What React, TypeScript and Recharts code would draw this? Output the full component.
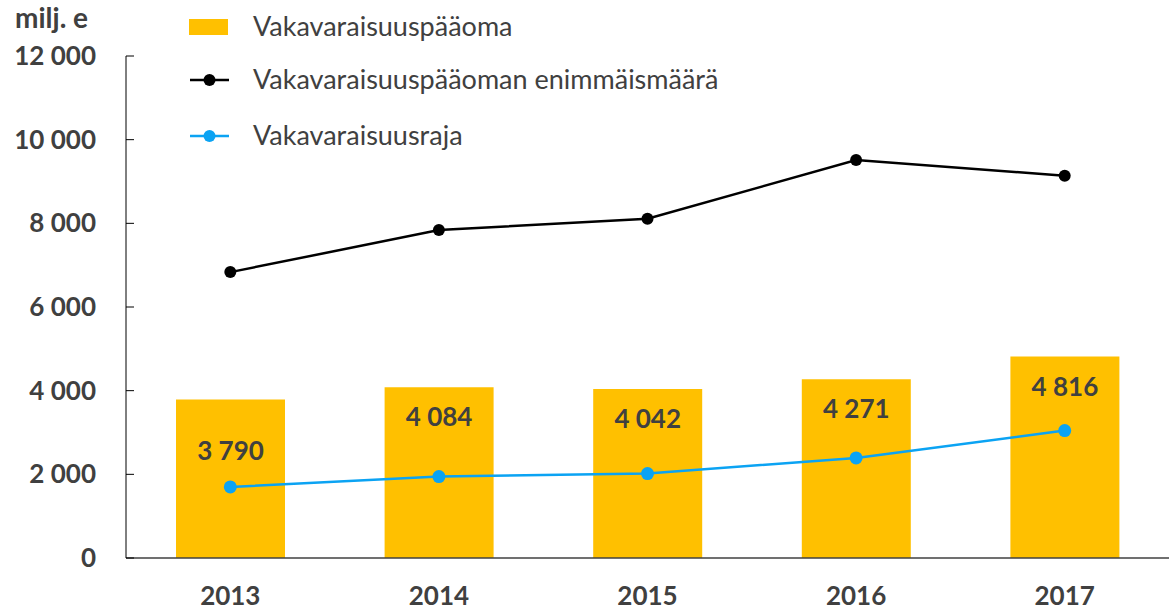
import { ComposedChart, Bar, Line, XAxis, YAxis, LabelList } from 'recharts'

const years = ['2013', '2014', '2015', '2016', '2017']
const capital = [3790, 4084, 4042, 4271, 4816]
const capitalMax = [6834, 7838, 8108, 9512, 9137]
const solvencyLimit = [1698, 1947, 2019, 2392, 3047]
const yTicks = [0, 2000, 4000, 6000, 8000, 10000, 12000]

const data = years.map((year, i) => ({
  year,
  capital: capital[i],
  capitalMax: capitalMax[i],
  limit: solvencyLimit[i],
}))

// how far below the bar top each value label sits (first one is dodging the line)
const labelDrop = [51, 30, 30, 30, 30]

const FONT = 'Lato, "Open Sans", sans-serif'
const GREY = '#404040'
const YELLOW = '#FFC000'
const BLUE = '#0BA3F3'

const fmt = (v: number) => String(v).replace(/\B(?=(\d{3})+(?!\d))/g, ' ')

const YTick = (props: any) => {
  const { x, y, payload } = props
  return (
    <g>
      <text x={x} y={y} dy="0.35em" textAnchor="end" fontSize={26} fontWeight={700} fill={GREY} fontFamily={FONT}>
        {fmt(payload.value)}
      </text>
      <line x1={x + 30} x2={x + 38} y1={y} y2={y} stroke="#000" strokeWidth={1} />
    </g>
  )
}

const BarValue = (props: any) => {
  const { x, y, width, value, index } = props
  return (
    <text
      x={x + width / 2}
      y={y + labelDrop[index]}
      dy="0.35em"
      textAnchor="middle"
      fontSize={26}
      fontWeight={700}
      fill={GREY}
      fontFamily={FONT}
    >
      {fmt(value)}
    </text>
  )
}

const legendItems = [
  { label: 'Vakavaraisuuspääoma', kind: 'bar', color: YELLOW, y: 27 },
  { label: 'Vakavaraisuuspääoman enimmäismäärä', kind: 'line', color: '#000', y: 80 },
  { label: 'Vakavaraisuusraja', kind: 'line', color: BLUE, y: 136 },
]

export default function App() {
  return (
    <div style={{ position: 'absolute', left: 0, top: 0, width: 1171, height: 611, background: '#fff' }}>
      <ComposedChart
        width={1171}
        height={611}
        data={data}
        margin={{ top: 56, right: 2, left: 0, bottom: 0 }}
        barCategoryGap={100}
      >
        <XAxis
          dataKey="year"
          tickLine={false}
          tickSize={0}
          tickMargin={29}
          height={53}
          axisLine={{ stroke: GREY, strokeWidth: 1.5 }}
          tick={{ fontSize: 26, fontWeight: 700, fill: GREY, fontFamily: FONT }}
        />
        <YAxis
          domain={[0, 12000]}
          ticks={yTicks}
          width={126}
          tickLine={false}
          tickSize={0}
          tickMargin={30}
          axisLine={{ stroke: '#000', strokeWidth: 1 }}
          tick={<YTick />}
          interval={0}
        />
        <Bar dataKey="capital" fill={YELLOW} barSize={109} isAnimationActive={false}>
          <LabelList dataKey="capital" content={<BarValue />} />
        </Bar>
        <Line
          dataKey="capitalMax"
          stroke="#000"
          strokeWidth={2.5}
          dot={{ r: 6, fill: '#000', stroke: '#000', strokeWidth: 0 }}
          isAnimationActive={false}
        />
        <Line
          dataKey="limit"
          stroke={BLUE}
          strokeWidth={2.5}
          dot={{ r: 6.5, fill: BLUE, stroke: BLUE, strokeWidth: 0 }}
          isAnimationActive={false}
        />
      </ComposedChart>
      <svg width={1171} height={611} style={{ position: 'absolute', left: 0, top: 0, pointerEvents: 'none' }}>
        <text x={15} y={18} dy="0.35em" fontSize={28} fontWeight={700} fill={GREY} fontFamily={FONT}>
          milj. e
        </text>
        {legendItems.map((item) => (
          <g key={item.label}>
            {item.kind === 'bar' ? (
              <rect x={189} y={item.y - 8} width={39} height={16} fill={item.color} />
            ) : (
              <g>
                <line x1={190} x2={229} y1={item.y} y2={item.y} stroke={item.color} strokeWidth={2.5} />
                <circle cx={209.5} cy={item.y} r={6} fill={item.color} />
              </g>
            )}
            <text x={253} y={item.y} dy="0.35em" fontSize={27} fill={GREY} fontFamily={FONT}>
              {item.label}
            </text>
          </g>
        ))}
      </svg>
    </div>
  )
}
